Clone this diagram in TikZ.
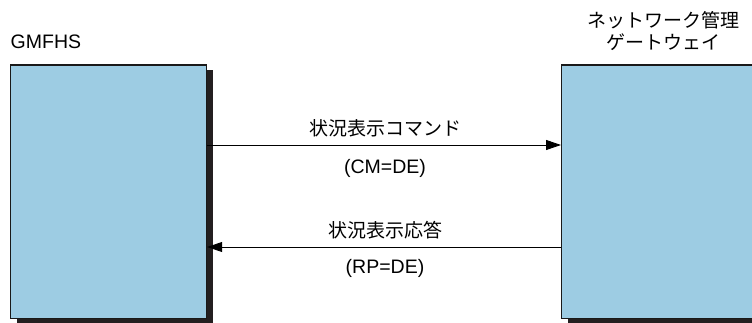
\documentclass[tikz,border=0pt]{standalone}
\usepackage{fontspec}
\setmainfont{Liberation Sans}
\newfontfamily\jp{Noto Sans CJK JP}
\usetikzlibrary{arrows.meta}
\definecolor{boxblue}{HTML}{9DCCE3}
\definecolor{shadowc}{HTML}{231F20}
\begin{document}
\begin{tikzpicture}[x=1pt,y=-1pt,
  lbl/.style={inner sep=0pt,font=\fontsize{19.5}{22}\selectfont},
  jlbl/.style={inner sep=0pt,font=\fontsize{19}{22}\selectfont\jp},
  sysbox/.style={draw=black!90,line width=1.2pt,fill=boxblue,inner sep=0pt},
  arr/.style={line width=0.9pt,-{Triangle[length=15pt,width=10pt]}}]
\useasboundingbox (0,0) rectangle (752,323);
\fill[white] (0,0) rectangle (752,323);
% shadows
\fill[shadowc] (16.5,70.5) rectangle (213,324);
\fill[shadowc] (568,70.5) rectangle (770,324);
% boxes
\node[sysbox,minimum width=196.5pt,minimum height=253pt,anchor=north west] (gm) at (9.5,64.5) {};
\node[sysbox,minimum width=210pt,minimum height=253pt,anchor=north west] (nw) at (561,64.5) {};
% titles
\node[lbl,anchor=west] (gmt) at (10.5,42) {GMFHS};
\node[jlbl] (nwt1) at (663,20) {ネットワーク管理};
\node[jlbl] (nwt2) at (663,42) {ゲートウェイ};
% arrows
\coordinate (a1) at (0,145);
\coordinate (a2) at (0,247);
\draw[arr] (gm.east |- a1) -- (nw.west |- a1);
\draw[arr] (nw.west |- a2) -- (gm.east |- a2);
% labels
\node[jlbl] (l1) at (385,128) {状況表示コマンド};
\node[lbl] (l2) at (385,168) {(CM=DE)};
\node[jlbl] (l3) at (385,230) {状況表示応答};
\node[lbl] (l4) at (385,268) {(RP=DE)};
\end{tikzpicture}
\end{document}
